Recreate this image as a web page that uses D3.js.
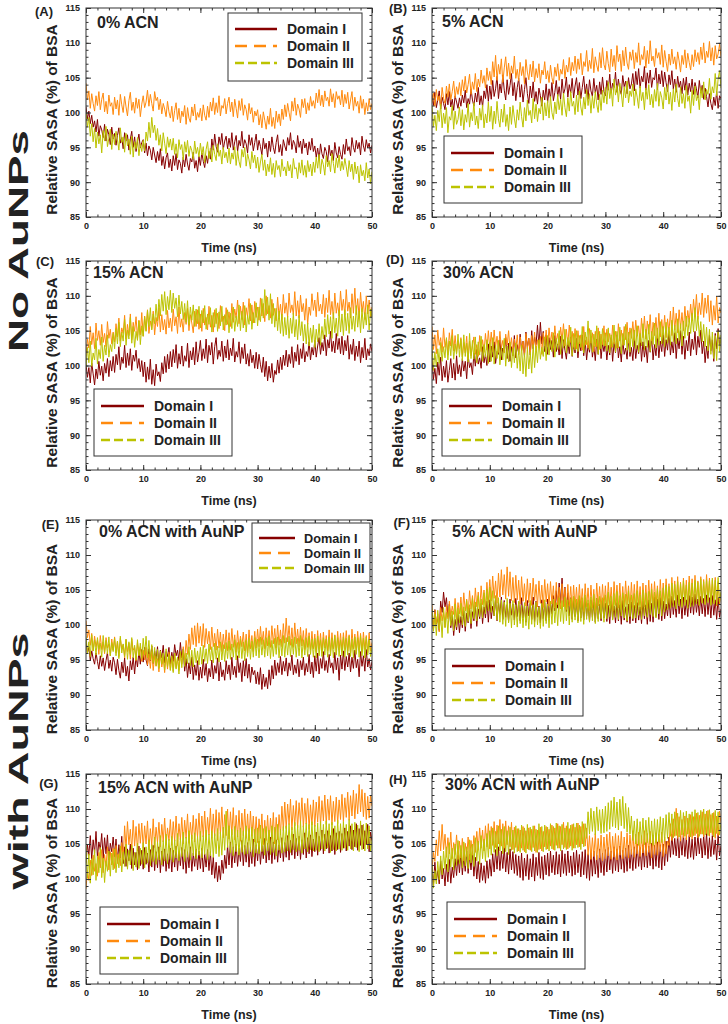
<!DOCTYPE html>
<html>
<head>
<meta charset="utf-8">
<script src="https://cdn.jsdelivr.net/npm/d3@7"></script>
<style>
  body { margin: 0; background: white; }
  text { font-family: "Liberation Sans", Arial, sans-serif; font-weight: bold; }
</style>
</head>
<body>
<script>
// one value every 0.25 ns, 0..50 ns
const timeStep = 0.25;
const domainNames = ['Domain I', 'Domain II', 'Domain III'];
const panelLetters = ['(A)', '(B)', '(C)', '(D)', '(E)', '(F)', '(G)', '(H)'];
const panelTitles = ['0% ACN', '5% ACN', '15% ACN', '30% ACN',
  '0% ACN with AuNP', '5% ACN with AuNP', '15% ACN with AuNP', '30% ACN with AuNP'];
const groupLabels = ['No AuNPs', 'with AuNPs'];
const xTicks = [0, 10, 20, 30, 40, 50];
const yTicks = [85, 90, 95, 100, 105, 110, 115];

// (A) 0% ACN
const sasaA1 = [
  100.8, 99.1, 100.2, 98.4, 99.6, 97.9, 98.8, 97.2, 99.0, 96.6, 98.1, 97.5, 96.4, 98.3, 95.9, 97.6, 96.8, 95.4, 97.9, 96.2,
  97.0, 95.3, 96.7, 97.8, 95.6, 96.4, 94.8, 97.1, 95.9, 96.8, 94.6, 96.2, 97.3, 95.0, 96.5, 94.4, 95.8, 96.9, 94.9, 95.7,
  96.1, 94.2, 95.6, 93.8, 95.2, 94.6, 93.2, 95.0, 93.9, 92.8, 94.4, 93.1, 94.8, 92.4, 93.7, 91.9, 93.5, 94.2, 92.1, 93.3,
  91.6, 93.8, 92.4, 94.1, 91.8, 93.2, 92.7, 91.3, 93.6, 92.2, 94.0, 92.6, 91.7, 93.4, 92.9, 94.3, 92.0, 93.1, 91.5, 93.7,
  92.4, 94.2, 93.0, 92.1, 93.8, 92.7, 94.4, 93.3, 96.2, 94.6, 96.9, 95.1, 94.3, 96.5, 95.4, 97.0, 94.7, 95.9, 96.6, 94.8,
  96.3, 95.0, 97.1, 94.6, 95.8, 96.7, 94.4, 96.0, 95.2, 97.3, 94.9, 96.1, 95.5, 94.2, 96.8, 95.3, 96.4, 94.5, 95.7, 96.9,
  94.6, 96.0, 95.1, 93.9, 96.3, 94.8, 95.6, 93.6, 95.9, 94.4, 96.5, 95.0, 94.1, 95.7, 96.8, 94.3, 95.4, 93.8, 96.1, 95.2,
  94.5, 96.4, 95.3, 97.1, 94.7, 96.0, 95.5, 94.2, 96.7, 95.0, 95.9, 94.1, 96.2, 94.9, 95.6, 93.9, 95.8, 94.6, 96.3, 94.4,
  95.2, 93.6, 94.9, 93.2, 95.5, 94.1, 93.4, 95.0, 94.4, 92.9, 95.3, 93.8, 94.6, 93.1, 95.7, 94.2, 93.5, 95.1, 94.0, 93.3,
  95.4, 94.0, 96.2, 94.5, 95.1, 93.8, 96.4, 95.0, 94.3, 96.0, 94.8, 95.7, 93.9, 96.6, 95.2, 94.4, 96.1, 94.9, 95.6, 94.2,
  95.3];
const sasaA2 = [
  104.2, 101.8, 103.1, 100.6, 102.7, 101.3, 100.2, 102.4, 101.0, 103.0, 100.4, 101.9, 102.8, 100.1, 101.6, 99.8, 102.5, 100.9, 101.4, 99.7,
  102.2, 100.5, 101.8, 99.6, 102.6, 101.1, 100.0, 102.3, 100.8, 99.5, 101.7, 102.9, 100.3, 101.5, 99.9, 102.1, 100.6, 101.9, 99.4, 101.2,
  102.4, 100.7, 101.5, 103.2, 100.9, 102.6, 101.3, 100.2, 103.0, 101.7, 102.2, 100.4, 101.9, 99.8, 101.3, 100.5, 99.4, 101.6, 100.1, 99.2,
  100.9, 98.7, 100.3, 101.4, 99.0, 100.6, 98.5, 100.2, 99.4, 101.0, 98.3, 100.7, 99.2, 98.6, 100.8, 99.5, 101.2, 98.9, 100.0, 99.3,
  100.6, 98.8, 101.1, 99.6, 98.9, 100.9, 99.3, 101.5, 100.2, 102.1, 99.7, 101.4, 100.0, 102.4, 99.5, 101.0, 100.6, 102.0, 99.8, 101.3,
  102.2, 100.1, 101.5, 99.4, 101.9, 100.6, 99.2, 101.7, 100.3, 102.0, 99.6, 101.1, 100.4, 98.9, 101.3, 99.8, 100.7, 98.6, 100.2, 99.5,
  100.4, 98.2, 99.7, 97.8, 100.1, 98.9, 97.6, 99.5, 98.3, 100.6, 98.0, 99.3, 97.7, 100.2, 98.6, 99.8, 98.1, 100.5, 99.0, 101.1,
  99.4, 101.3, 100.0, 98.8, 101.6, 100.2, 102.1, 99.6, 101.2, 100.5, 99.3, 101.9, 100.7, 102.0, 99.8, 101.4, 100.3, 102.3, 100.9, 101.7,
  100.6, 102.8, 101.4, 103.3, 101.0, 102.5, 100.8, 103.1, 101.7, 102.2, 100.9, 103.4, 101.5, 102.7, 100.7, 103.0, 101.9, 102.4, 101.1, 103.2,
  100.8, 102.6, 101.3, 102.9, 100.5, 101.8, 103.0, 100.3, 102.2, 100.9, 101.6, 99.9, 102.4, 100.6, 101.9, 99.7, 101.4, 100.2, 102.0, 100.4,
  101.3];
const sasaA3 = [
  100.1, 97.9, 99.3, 96.6, 98.4, 95.8, 97.7, 94.9, 97.2, 95.5, 96.8, 94.2, 97.4, 95.9, 98.0, 95.1, 96.3, 97.6, 94.7, 96.9,
  95.4, 97.3, 96.1, 94.6, 97.8, 95.7, 96.5, 94.3, 97.0, 95.2, 96.2, 94.0, 96.6, 93.6, 95.8, 94.8, 96.4, 93.8, 95.5, 94.4,
  96.0, 94.5, 97.2, 95.9, 98.6, 96.4, 99.3, 97.1, 98.2, 96.0, 97.7, 95.3, 96.8, 94.5, 97.1, 95.6, 94.1, 96.5, 95.0, 96.2,
  94.6, 96.3, 94.0, 95.5, 93.5, 96.1, 94.7, 95.4, 93.2, 95.8, 94.3, 96.0, 93.7, 95.2, 94.5, 93.3, 95.9, 94.1, 95.0, 93.6,
  95.6, 93.9, 95.1, 92.8, 94.7, 95.8, 93.4, 94.9, 92.9, 95.3, 94.0, 93.1, 95.5, 93.7, 94.6, 92.6, 95.0, 93.5, 94.3, 92.8,
  94.9, 92.6, 94.2, 93.3, 95.1, 92.4, 94.5, 93.0, 92.1, 94.7, 93.6, 95.0, 92.3, 94.1, 93.2, 91.9, 94.4, 92.8, 93.9, 92.0,
  93.6, 91.4, 92.9, 94.0, 91.7, 93.2, 90.9, 92.6, 91.5, 93.5, 91.1, 92.7, 90.7, 93.1, 91.8, 92.4, 90.8, 93.3, 91.6, 92.2,
  90.9, 93.0, 91.6, 92.5, 90.6, 93.4, 91.9, 92.1, 90.5, 92.8, 91.3, 93.2, 91.0, 92.4, 90.7, 93.1, 91.5, 92.6, 90.9, 92.9,
  91.4, 93.6, 92.0, 94.0, 91.2, 93.3, 92.5, 91.0, 93.8, 92.2, 93.1, 91.5, 94.1, 92.7, 91.3, 93.5, 92.1, 93.9, 91.6, 93.0,
  91.8, 93.4, 92.2, 90.8, 93.1, 91.5, 92.6, 90.4, 92.9, 91.2, 92.3, 89.9, 92.5, 90.9, 91.7, 90.2, 92.8, 90.6, 91.9, 89.8,
  91.5];

// (B) 5% ACN
const sasaB1 = [
  102.6, 101.0, 102.9, 100.7, 101.8, 103.1, 100.5, 102.2, 101.3, 100.4, 102.7, 101.1, 103.0, 100.8, 101.9, 100.3, 102.4, 101.5, 100.6, 102.1,
  100.9, 102.5, 101.4, 103.2, 100.7, 102.0, 101.2, 103.4, 101.8, 100.9, 102.8, 101.5, 103.6, 101.1, 102.4, 100.8, 103.1, 102.0, 104.0, 101.6,
  103.8, 101.9, 104.6, 102.3, 103.4, 105.2, 102.0, 104.1, 102.8, 105.4, 103.2, 101.8, 104.7, 102.6, 103.9, 105.6, 102.4, 104.3, 101.7, 103.6,
  104.9, 102.2, 104.0, 101.5, 103.3, 105.0, 102.7, 101.3, 103.8, 102.1, 104.4, 101.6, 103.0, 101.2, 103.5, 102.4, 100.9, 103.2, 101.8, 104.1,
  101.4, 103.4, 102.0, 104.3, 101.7, 102.9, 104.6, 102.3, 103.7, 101.9, 104.8, 102.6, 103.4, 105.1, 102.2, 104.0, 102.8, 104.9, 102.1, 103.8,
  105.0, 102.5, 104.3, 102.0, 103.6, 105.2, 102.7, 104.1, 101.9, 104.7, 103.1, 102.3, 104.9, 102.8, 103.9, 101.8, 104.4, 102.6, 105.1, 103.0,
  102.4, 104.6, 103.2, 105.5, 102.8, 104.2, 103.6, 105.8, 102.9, 104.8, 103.3, 102.6, 105.3, 103.7, 104.5, 102.7, 105.0, 103.4, 104.1, 105.6,
  103.1, 105.9, 104.0, 106.3, 103.5, 105.2, 104.4, 106.6, 103.2, 105.7, 104.2, 106.1, 103.6, 105.0, 104.7, 106.4, 103.3, 105.5, 104.1, 106.0,
  103.7, 105.8, 104.3, 103.0, 105.4, 104.0, 106.0, 103.4, 104.8, 102.9, 105.2, 103.6, 104.5, 102.7, 104.9, 103.2, 105.1, 102.5, 104.2, 103.0,
  104.8, 102.6, 104.3, 103.4, 102.1, 104.6, 102.8, 103.9, 101.9, 103.5, 102.3, 100.8, 102.7, 101.3, 100.4, 102.2, 101.0, 103.0, 100.6, 102.4,
  102.0];
const sasaB2 = [
  101.4, 102.8, 100.9, 103.3, 101.7, 102.4, 100.6, 103.6, 102.0, 101.3, 103.8, 102.2, 104.1, 101.8, 103.0, 104.5, 102.1, 103.7, 102.6, 104.3,
  102.4, 104.7, 103.1, 105.2, 102.8, 104.0, 105.5, 102.6, 104.4, 103.3, 105.6, 103.0, 104.8, 103.7, 106.1, 104.2, 105.3, 103.5, 106.4, 104.6,
  105.9, 104.0, 107.3, 105.1, 108.2, 104.6, 106.9, 105.5, 107.7, 104.3, 106.4, 108.0, 105.2, 107.1, 104.8, 106.7, 105.6, 108.1, 104.9, 106.2,
  104.5, 107.2, 105.3, 106.6, 104.1, 107.6, 105.8, 104.7, 106.9, 105.1, 107.4, 104.4, 106.3, 105.0, 107.0, 104.2, 106.1, 105.4, 107.3, 104.8,
  106.0, 104.3, 106.8, 105.0, 104.1, 106.5, 105.2, 107.0, 104.6, 106.2, 105.5, 107.6, 104.9, 106.8, 105.8, 107.9, 105.3, 107.2, 106.0, 108.1,
  105.6, 107.7, 106.2, 108.5, 105.4, 107.3, 106.6, 108.9, 105.9, 107.5, 106.3, 109.2, 105.7, 108.0, 106.8, 105.9, 108.6, 106.4, 109.3, 106.9,
  106.1, 108.8, 107.0, 105.8, 109.1, 106.6, 108.2, 106.0, 109.6, 107.3, 108.4, 105.9, 108.9, 106.7, 109.4, 107.1, 106.2, 108.7, 107.5, 109.0,
  106.3, 108.6, 107.2, 110.0, 106.8, 108.3, 107.6, 109.5, 106.4, 108.9, 107.0, 110.3, 107.4, 108.1, 106.6, 109.2, 107.8, 108.6, 106.9, 109.7,
  106.5, 108.9, 107.3, 105.9, 108.4, 106.8, 109.1, 107.0, 108.0, 106.2, 108.7, 107.4, 105.8, 108.2, 106.9, 109.0, 106.4, 108.5, 107.2, 106.1,
  108.3, 106.6, 109.0, 107.3, 108.6, 106.9, 109.4, 107.6, 110.0, 107.1, 108.8, 107.9, 110.2, 107.4, 109.3, 106.8, 109.6, 107.7, 108.4, 109.8,
  108.0];
const sasaB3 = [
  100.9, 98.0, 99.6, 97.4, 100.3, 98.7, 101.2, 97.8, 99.9, 98.4, 100.7, 97.1, 99.4, 98.9, 101.0, 97.6, 100.2, 98.3, 99.0, 100.8,
  98.1, 100.4, 97.5, 99.7, 98.6, 101.3, 97.9, 100.0, 98.8, 101.4, 98.2, 99.5, 97.7, 100.6, 98.9, 101.1, 97.8, 99.8, 98.5, 101.5,
  98.7, 100.9, 97.6, 100.2, 98.4, 101.6, 99.1, 97.9, 100.5, 98.6, 101.2, 98.0, 99.7, 97.4, 100.8, 98.3, 101.0, 99.2, 97.8, 100.4,
  98.9, 101.5, 99.4, 97.9, 100.7, 98.8, 101.8, 99.6, 100.3, 98.5, 102.0, 99.1, 101.2, 98.7, 100.6, 99.8, 102.2, 98.9, 101.4, 99.5,
  101.7, 99.2, 102.3, 100.0, 99.0, 101.5, 99.8, 102.6, 100.4, 101.9, 99.6, 102.8, 100.7, 99.4, 102.1, 100.2, 103.0, 100.9, 101.6, 99.7,
  102.5, 100.1, 103.1, 100.8, 99.6, 102.2, 100.5, 103.3, 101.0, 102.7, 99.9, 102.4, 100.6, 103.0, 101.2, 100.0, 102.6, 100.3, 103.2, 101.4,
  103.6, 101.2, 104.4, 102.0, 103.5, 100.9, 104.8, 102.5, 103.9, 101.5, 104.2, 102.8, 100.8, 103.7, 102.1, 104.5, 101.4, 103.1, 102.3, 104.1,
  101.0, 103.4, 102.2, 100.6, 103.8, 101.7, 102.9, 100.4, 103.5, 101.9, 104.0, 101.1, 102.6, 100.7, 103.3, 101.6, 104.2, 100.9, 103.0, 102.1,
  100.5, 103.6, 101.8, 104.0, 101.2, 102.9, 100.3, 103.4, 101.5, 104.1, 102.0, 100.8, 103.7, 101.3, 102.7, 100.6, 103.9, 101.6, 102.4, 99.9,
  103.2, 101.0, 103.8, 101.7, 102.5, 100.4, 103.6, 102.1, 104.4, 101.8, 103.3, 102.6, 104.9, 101.9, 103.7, 102.8, 105.6, 102.4, 104.8, 106.0,
  103.5];

// (C) 15% ACN
const sasaC1 = [
  100.2, 98.3, 99.7, 97.5, 100.4, 98.8, 97.2, 99.5, 98.1, 100.6, 98.6, 99.9, 97.8, 100.3, 98.9, 101.0, 98.4, 100.7, 99.2, 101.3,
  99.0, 101.6, 100.1, 102.7, 99.4, 101.2, 100.3, 102.9, 99.7, 101.8, 100.0, 102.4, 99.3, 101.5, 100.6, 102.2, 99.6, 101.0, 99.1, 100.7,
  98.4, 100.5, 97.6, 99.8, 98.0, 100.9, 97.3, 99.4, 97.1, 100.2, 98.5, 99.1, 97.7, 100.4, 98.8, 101.3, 99.0, 101.6, 99.5, 102.0,
  99.8, 102.3, 100.4, 103.0, 99.6, 101.7, 100.2, 102.8, 99.9, 101.4, 100.6, 103.2, 99.7, 102.1, 100.8, 102.6, 100.1, 103.4, 100.5, 101.9,
  103.6, 100.7, 102.4, 101.0, 103.8, 100.4, 102.9, 101.5, 103.3, 100.2, 102.7, 104.0, 100.9, 102.2, 101.3, 103.5, 100.6, 102.8, 101.1, 103.7,
  100.8, 102.5, 101.4, 103.9, 100.5, 102.0, 101.2, 103.4, 100.3, 102.6, 101.0, 103.1, 100.2, 101.7, 99.9, 102.3, 100.4, 101.5, 99.6, 101.9,
  99.5, 101.6, 100.1, 99.0, 101.2, 98.4, 100.6, 97.8, 99.9, 98.2, 100.3, 97.6, 99.3, 98.7, 100.8, 98.9, 101.2, 99.4, 101.5, 100.0,
  102.2, 99.8, 101.6, 100.3, 102.7, 99.7, 101.9, 100.6, 103.0, 100.1, 102.4, 101.0, 103.2, 100.5, 102.0, 101.3, 103.4, 100.8, 102.6, 101.5,
  103.6, 101.2, 102.8, 104.0, 101.6, 103.3, 102.1, 104.4, 101.4, 103.7, 102.5, 104.9, 102.0, 103.5, 101.8, 104.6, 102.3, 103.9, 101.7, 104.2,
  101.5, 103.6, 102.1, 104.3, 100.9, 103.0, 101.6, 103.8, 100.7, 102.8, 101.3, 103.5, 100.4, 102.6, 101.1, 103.9, 100.8, 102.4, 101.4, 103.1,
  102.0];
const sasaC2 = [
  101.3, 103.8, 102.5, 105.6, 103.0, 104.7, 102.4, 106.1, 103.6, 105.0, 102.9, 105.9, 103.3, 104.6, 102.7, 106.3, 103.9, 105.2, 103.1, 104.8,
  103.4, 106.0, 104.1, 106.8, 103.5, 105.4, 104.6, 107.2, 103.8, 105.9, 104.3, 107.4, 103.7, 106.2, 104.9, 107.0, 103.9, 106.5, 104.4, 107.6,
  104.2, 107.1, 105.0, 108.0, 104.6, 106.4, 105.3, 107.8, 104.4, 106.9, 105.6, 108.3, 104.8, 107.3, 105.1, 106.6, 104.5, 107.9, 105.4, 106.8,
  104.9, 108.1, 105.7, 107.0, 104.6, 108.4, 105.5, 106.7, 104.8, 107.6, 105.9, 108.2, 105.0, 107.3, 106.1, 104.7, 107.8, 105.6, 108.0, 105.2,
  107.4, 104.9, 108.2, 105.8, 106.9, 105.1, 108.5, 105.5, 107.2, 104.8, 108.0, 106.0, 107.5, 105.3, 108.6, 106.3, 107.1, 105.0, 108.3, 105.9,
  107.7, 105.6, 108.9, 106.2, 108.1, 106.8, 109.4, 106.0, 108.5, 106.6, 109.1, 105.8, 108.3, 107.0, 109.6, 106.4, 108.7, 106.1, 109.2, 106.9,
  108.4, 106.5, 109.7, 107.1, 108.9, 106.3, 110.0, 107.4, 108.6, 106.8, 109.5, 107.2, 108.2, 106.4, 109.8, 107.0, 108.8, 106.6, 110.2, 107.5,
  109.0, 106.9, 110.4, 107.6, 108.7, 107.3, 110.6, 107.1, 109.3, 106.8, 110.1, 107.7, 108.9, 106.5, 109.6, 105.9, 108.4, 107.2, 110.3, 107.9,
  109.4, 107.0, 110.5, 107.8, 108.8, 107.4, 110.2, 106.9, 109.7, 107.6, 110.8, 107.3, 109.2, 106.7, 110.4, 107.5, 109.0, 107.1, 110.7, 107.9,
  109.5, 107.2, 110.9, 107.8, 109.1, 106.8, 110.3, 107.5, 111.1, 107.3, 109.6, 106.9, 110.5, 107.7, 109.2, 106.6, 110.0, 107.4, 109.4, 107.0,
  108.4];
const sasaC3 = [
  99.7, 102.6, 100.4, 103.5, 99.9, 101.8, 100.8, 103.9, 100.2, 102.3, 101.0, 104.1, 100.6, 102.9, 101.5, 104.4, 101.2, 103.0, 102.0, 104.6,
  102.4, 105.3, 103.1, 106.2, 102.7, 104.8, 103.5, 106.6, 102.9, 105.1, 103.8, 106.9, 103.2, 105.6, 102.6, 104.9, 103.6, 106.4, 103.0, 105.7,
  104.2, 107.0, 104.9, 107.9, 105.6, 108.3, 105.1, 107.4, 106.0, 108.8, 106.4, 109.5, 107.1, 110.2, 107.8, 110.6, 107.3, 109.9, 108.0, 110.8,
  107.6, 110.4, 108.2, 109.7, 107.0, 110.1, 107.4, 109.2, 106.6, 108.9, 106.2, 109.3, 105.8, 108.4, 106.5, 108.7, 105.6, 108.1, 106.0, 108.5,
  105.4, 107.9, 106.1, 108.6, 105.2, 107.4, 105.9, 108.3, 104.8, 107.6, 105.5, 108.2, 104.9, 107.7, 105.7, 108.5, 105.1, 107.3, 105.8, 108.0,
  104.7, 107.5, 105.3, 108.4, 104.9, 107.1, 105.6, 108.7, 105.0, 107.8, 105.4, 108.6, 104.8, 107.2, 105.9, 108.9, 105.2, 107.6, 106.1, 109.0,
  105.7, 108.4, 106.3, 109.6, 106.8, 110.9, 107.2, 109.8, 106.5, 110.3, 106.0, 108.9, 105.5, 108.2, 105.0, 107.8, 104.6, 107.4, 104.2, 106.9,
  104.4, 107.1, 103.9, 106.8, 104.6, 107.5, 104.1, 106.6, 103.7, 107.2, 104.3, 106.3, 103.5, 105.9, 103.1, 106.1, 102.8, 105.4, 103.3, 105.8,
  102.6, 105.2, 103.4, 106.0, 102.9, 105.6, 103.8, 106.7, 104.1, 107.3, 104.5, 107.0, 103.9, 107.6, 104.7, 106.8, 104.2, 107.9, 104.8, 107.4,
  104.3, 108.0, 105.0, 107.5, 104.6, 108.3, 105.2, 107.1, 104.9, 108.6, 105.5, 107.8, 104.7, 108.2, 105.3, 107.6, 105.8, 108.7, 105.1, 108.1,
  106.8];

// (D) 30% ACN
const sasaD1 = [
  100.8, 98.0, 99.6, 97.4, 100.5, 98.6, 101.2, 97.8, 99.9, 98.3, 100.7, 97.6, 99.3, 101.0, 98.2, 100.3, 97.9, 101.4, 98.8, 100.1,
  98.4, 101.0, 99.2, 100.6, 98.1, 101.5, 99.7, 100.4, 98.7, 101.8, 99.9, 102.3, 100.2, 101.1, 99.6, 102.7, 100.4, 101.6, 100.0, 103.1,
  100.5, 102.8, 101.2, 103.4, 100.3, 102.0, 101.6, 103.7, 100.8, 102.5, 101.9, 104.0, 101.0, 103.2, 100.6, 102.7, 101.4, 104.3, 101.1, 103.0,
  101.7, 104.5, 102.2, 103.5, 101.3, 104.8, 102.6, 103.9, 101.5, 105.0, 102.4, 104.1, 103.0, 105.8, 102.7, 106.2, 103.1, 104.9, 102.0, 104.4,
  101.6, 104.0, 102.3, 103.6, 101.2, 104.3, 102.0, 103.1, 101.5, 104.2, 101.0, 103.7, 102.2, 100.9, 103.4, 101.7, 104.1, 101.3, 103.0, 101.8,
  103.9, 101.1, 103.3, 102.1, 104.4, 101.4, 103.6, 100.8, 103.0, 101.9, 104.2, 101.2, 102.8, 100.7, 103.8, 101.6, 104.5, 101.0, 103.2, 102.0,
  103.5, 100.8, 102.9, 101.5, 104.0, 100.6, 103.3, 101.8, 104.4, 101.1, 102.7, 100.5, 103.7, 101.6, 102.5, 100.9, 103.9, 101.3, 102.6, 100.7,
  103.8, 101.0, 102.9, 101.7, 104.2, 100.6, 103.4, 101.2, 102.8, 100.4, 103.6, 101.9, 104.1, 100.8, 103.0, 101.4, 104.3, 101.1, 103.5, 102.0,
  104.6, 101.3, 103.7, 102.2, 104.9, 101.5, 103.4, 101.8, 104.7, 101.0, 103.9, 102.4, 105.0, 101.6, 104.2, 100.9, 103.6, 102.1, 104.8, 101.4,
  103.8, 102.3, 104.9, 101.5, 104.2, 102.6, 105.1, 101.7, 103.5, 100.4, 102.8, 101.0, 104.4, 102.1, 103.7, 100.6, 104.6, 102.4, 105.3, 103.0,
  103.6];
const sasaD2 = [
  105.6, 102.3, 104.4, 101.7, 105.1, 102.9, 104.0, 101.9, 105.4, 102.6, 103.8, 101.5, 104.7, 102.8, 105.2, 102.1, 104.3, 101.8, 103.6, 102.4,
  104.0, 101.2, 103.3, 101.8, 104.2, 100.9, 103.5, 101.4, 102.8, 104.1, 101.6, 103.0, 101.3, 104.3, 102.0, 103.7, 101.9, 104.6, 102.2, 105.0,
  102.4, 104.8, 102.0, 105.1, 102.7, 104.2, 101.9, 104.9, 102.5, 103.6, 101.8, 104.5, 102.9, 105.0, 102.2, 104.0, 101.6, 103.8, 102.3, 104.4,
  101.5, 104.1, 102.1, 103.5, 101.4, 104.6, 102.4, 103.9, 101.7, 104.3, 102.6, 104.8, 101.9, 103.7, 102.5, 104.2, 101.6, 104.7, 102.8, 105.1,
  102.7, 105.4, 103.2, 104.8, 102.5, 105.7, 103.4, 104.6, 102.9, 105.5, 103.6, 106.0, 102.8, 105.2, 103.0, 105.8, 103.3, 104.9, 102.6, 105.3,
  102.4, 105.0, 103.1, 104.4, 102.2, 105.6, 102.9, 104.1, 102.5, 105.3, 103.2, 104.7, 102.0, 104.9, 102.7, 105.4, 102.3, 104.5, 103.0, 105.7,
  102.8, 105.2, 103.4, 104.6, 102.6, 105.8, 103.1, 104.9, 102.5, 106.0, 103.5, 105.1, 102.9, 105.6, 103.7, 106.2, 103.2, 105.4, 103.9, 106.3,
  103.6, 106.5, 104.2, 105.7, 103.3, 106.8, 104.0, 107.1, 103.8, 106.4, 104.5, 107.3, 103.5, 106.2, 104.3, 106.9, 103.9, 107.5, 104.1, 106.6,
  104.4, 107.2, 104.0, 106.7, 104.8, 107.8, 104.3, 108.4, 105.1, 107.5, 104.7, 108.0, 105.3, 107.6, 105.0, 108.5, 105.6, 107.9, 106.2, 108.8,
  106.4, 109.5, 107.0, 110.2, 106.6, 109.0, 107.3, 110.4, 106.9, 109.7, 107.5, 110.1, 106.3, 109.3, 105.8, 108.6, 106.5, 109.9, 106.1, 108.3,
  107.5];
const sasaD3 = [
  102.8, 99.3, 101.9, 99.8, 102.4, 100.3, 103.3, 100.6, 102.7, 101.1, 104.0, 100.8, 103.5, 101.4, 104.3, 100.9, 103.1, 101.6, 104.5, 101.2,
  103.8, 100.7, 104.4, 101.3, 103.2, 100.5, 104.6, 101.0, 103.6, 100.9, 104.1, 100.4, 103.4, 101.5, 104.2, 100.6, 103.0, 101.2, 103.7, 100.3,
  103.3, 100.6, 104.0, 100.2, 102.9, 101.0, 103.6, 100.1, 102.6, 100.8, 103.9, 99.9, 102.8, 100.5, 103.4, 99.7, 102.5, 100.4, 103.2, 99.6,
  102.4, 99.2, 102.9, 98.8, 101.8, 98.4, 102.6, 99.5, 101.9, 98.9, 103.0, 99.7, 102.8, 100.4, 103.7, 100.9, 102.6, 101.3, 104.1, 100.7,
  104.3, 101.5, 103.6, 102.0, 104.7, 101.2, 103.9, 102.3, 105.0, 101.6, 104.4, 102.5, 105.2, 101.8, 104.0, 102.7, 105.5, 101.4, 104.6, 102.2,
  105.0, 102.0, 104.3, 102.6, 105.6, 101.8, 104.8, 103.0, 106.4, 102.3, 105.1, 101.9, 104.5, 102.7, 105.7, 101.6, 104.9, 102.4, 105.3, 102.8,
  104.7, 102.1, 105.4, 101.8, 104.4, 102.6, 105.8, 101.9, 104.9, 102.5, 105.5, 101.7, 104.6, 102.9, 105.9, 102.2, 104.8, 101.9, 105.3, 102.7,
  105.1, 102.4, 105.7, 101.9, 104.6, 102.8, 106.0, 102.2, 105.2, 102.6, 105.9, 102.0, 104.9, 103.0, 106.1, 102.5, 105.4, 102.9, 106.3, 103.1,
  105.6, 102.7, 106.2, 103.2, 105.5, 102.9, 106.5, 103.4, 105.8, 103.1, 106.7, 103.6, 106.0, 102.8, 106.4, 103.9, 107.1, 104.3, 106.8, 104.6,
  107.5, 104.8, 108.3, 105.0, 107.1, 104.2, 106.3, 103.4, 105.9, 102.7, 105.5, 102.1, 105.2, 101.6, 104.8, 101.0, 104.3, 100.7, 104.9, 102.0,
  104.4];

// (E) 0% ACN with AuNP
const sasaE1 = [
  97.8, 96.0, 96.8, 94.9, 96.3, 95.2, 94.4, 96.0, 94.8, 93.7, 95.6, 94.1, 95.3, 93.5, 94.9, 96.1, 93.8, 95.0, 93.4, 95.4,
  94.6, 92.9, 95.1, 93.5, 92.4, 94.7, 93.2, 95.3, 92.7, 94.1, 92.0, 94.9, 93.6, 95.4, 93.0, 95.6, 94.0, 96.2, 94.4, 96.5,
  94.7, 96.8, 95.0, 94.2, 96.6, 94.9, 97.0, 94.5, 96.3, 95.1, 96.9, 94.3, 96.4, 95.3, 97.1, 94.6, 96.2, 95.5, 96.8, 94.4,
  96.1, 94.8, 97.2, 95.6, 96.4, 94.9, 97.5, 95.3, 96.6, 93.4, 95.2, 92.5, 94.6, 93.0, 95.4, 92.2, 94.3, 92.8, 94.9, 92.1,
  94.0, 92.4, 95.1, 92.8, 94.5, 91.9, 93.8, 92.6, 95.0, 92.3, 94.2, 93.1, 95.3, 92.0, 94.7, 92.6, 93.6, 92.1, 94.9, 93.0,
  94.3, 92.2, 95.4, 92.9, 94.1, 92.5, 95.6, 93.2, 94.6, 91.9, 94.9, 92.7, 95.2, 92.4, 94.4, 91.8, 94.0, 92.9, 93.5, 91.6,
  93.3, 91.5, 93.9, 90.8, 93.0, 91.2, 92.5, 90.9, 93.6, 91.4, 94.2, 92.3, 95.0, 92.8, 94.6, 93.2, 95.5, 92.9, 94.8, 93.4,
  95.3, 92.7, 94.6, 93.5, 95.7, 92.9, 94.3, 93.1, 95.1, 92.6, 94.9, 93.6, 95.4, 92.8, 94.5, 93.3, 95.8, 93.0, 94.7, 92.5,
  95.6, 93.4, 96.0, 93.0, 95.2, 93.8, 96.2, 93.5, 94.9, 93.2, 95.8, 93.9, 94.6, 93.1, 96.1, 93.6, 95.3, 92.1, 95.7, 93.7,
  96.3, 93.5, 95.5, 94.0, 96.0, 93.3, 95.4, 93.8, 96.4, 93.9, 95.1, 92.6, 96.2, 94.1, 95.6, 93.4, 96.5, 94.0, 95.2, 93.6,
  94.8];
const sasaE2 = [
  100.6, 98.2, 99.3, 97.1, 98.8, 96.3, 98.4, 96.9, 97.8, 95.8, 98.5, 96.5, 97.6, 95.9, 98.2, 96.7, 97.3, 95.6, 98.0, 96.4,
  98.3, 96.0, 97.7, 95.5, 98.1, 96.6, 97.2, 95.3, 97.9, 96.2, 97.4, 95.1, 98.0, 96.4, 96.8, 94.9, 97.5, 95.7, 96.9, 94.8,
  96.4, 95.0, 96.8, 94.3, 95.9, 93.8, 96.2, 93.5, 95.6, 94.1, 95.2, 93.3, 96.0, 94.0, 95.4, 93.2, 95.8, 93.7, 96.1, 93.6,
  95.5, 93.4, 95.9, 93.9, 95.3, 93.5, 96.2, 94.4, 96.9, 95.0, 97.8, 95.8, 98.7, 96.5, 99.6, 97.2, 99.9, 96.9, 100.3, 97.4,
  99.8, 97.0, 100.2, 96.8, 99.5, 97.3, 99.1, 96.5, 99.7, 96.9, 98.8, 96.4, 99.4, 96.7, 99.0, 96.2, 98.7, 96.6, 99.3, 96.3,
  98.9, 96.4, 99.5, 96.8, 98.6, 96.1, 99.2, 96.5, 98.4, 96.9, 99.0, 96.3, 98.7, 96.0, 99.3, 96.6, 98.5, 96.2, 99.1, 96.7,
  99.4, 96.9, 99.8, 97.2, 99.1, 96.6, 99.6, 97.0, 99.2, 96.8, 99.9, 97.3, 99.5, 96.7, 100.0, 97.1, 99.3, 96.9, 100.2, 97.4,
  101.0, 97.6, 99.9, 97.1, 99.6, 96.8, 100.3, 97.3, 99.4, 96.9, 99.7, 97.0, 99.2, 96.5, 99.5, 96.8, 98.9, 96.4, 99.1, 96.6,
  98.7, 96.1, 99.2, 96.5, 98.8, 96.0, 99.0, 96.7, 98.5, 96.3, 99.3, 96.2, 98.9, 96.6, 98.6, 96.1, 99.1, 96.4, 98.8, 96.2,
  98.9, 96.5, 99.2, 96.3, 98.6, 96.0, 99.4, 96.6, 98.7, 96.2, 99.1, 96.4, 98.8, 96.1, 99.0, 96.5, 98.5, 96.0, 98.9, 96.3,
  97.5];
const sasaE3 = [
  98.4, 96.0, 97.6, 95.5, 98.6, 96.3, 97.9, 95.7, 98.2, 96.5, 97.4, 95.4, 98.5, 96.1, 97.8, 95.9, 98.3, 95.6, 97.5, 96.2,
  98.1, 95.6, 97.7, 95.2, 98.4, 96.0, 97.3, 95.5, 98.0, 95.1, 97.6, 95.8, 98.2, 95.3, 97.1, 95.0, 97.9, 95.6, 97.4, 95.2,
  98.1, 95.7, 98.4, 95.3, 97.8, 95.0, 97.2, 94.6, 96.8, 94.2, 96.5, 93.8, 96.3, 94.4, 96.0, 93.6, 96.6, 94.0, 95.8, 93.5,
  95.6, 93.2, 96.0, 93.7, 95.4, 93.0, 96.2, 93.9, 96.5, 94.1, 96.0, 94.5, 96.9, 94.2, 96.4, 94.0, 96.7, 94.6, 96.3, 94.3,
  96.8, 94.4, 97.1, 94.8, 96.6, 94.5, 97.3, 94.9, 96.9, 94.6, 97.4, 95.1, 97.0, 94.7, 97.6, 95.0, 97.2, 94.8, 97.5, 95.2,
  97.7, 95.1, 97.3, 95.4, 97.9, 95.0, 97.5, 95.3, 98.0, 95.2, 97.6, 94.9, 97.8, 95.5, 98.1, 95.1, 97.7, 95.4, 98.2, 95.6,
  98.0, 95.3, 98.3, 95.7, 97.9, 95.4, 98.2, 95.6, 98.4, 95.2, 97.8, 95.5, 98.1, 95.8, 98.3, 95.3, 98.0, 95.6, 98.5, 95.4,
  98.2, 95.7, 98.4, 95.5, 98.0, 95.8, 98.3, 95.4, 98.1, 95.6, 98.5, 95.3, 97.9, 95.7, 98.2, 95.5, 98.4, 95.8, 98.0, 95.4,
  98.1, 95.3, 98.4, 95.6, 97.9, 95.5, 98.2, 95.7, 98.0, 95.4, 98.3, 95.6, 98.1, 95.3, 98.5, 95.7, 98.2, 95.5, 97.9, 95.6,
  98.3, 95.4, 98.1, 95.7, 98.4, 95.5, 98.0, 95.3, 98.3, 95.8, 98.2, 95.4, 98.5, 95.6, 98.1, 95.3, 98.3, 95.7, 98.0, 95.5,
  96.8];

// (F) 5% ACN with AuNP
const sasaF1 = [
  101.6, 99.4, 102.2, 100.1, 100.9, 99.2, 103.4, 101.8, 104.7, 102.6, 103.9, 101.2, 103.0, 99.6, 101.4, 98.5, 100.8, 99.3, 101.5, 98.9,
  101.2, 99.6, 102.0, 99.1, 101.7, 100.3, 102.4, 99.5, 101.9, 100.6, 102.8, 99.8, 102.3, 100.9, 103.1, 100.2, 102.6, 101.0, 103.4, 100.4,
  103.6, 100.9, 102.7, 101.3, 103.9, 100.6, 103.2, 101.5, 104.0, 100.8, 103.5, 101.1, 102.9, 100.5, 103.7, 101.4, 103.0, 100.7, 103.8, 101.2,
  103.3, 100.6, 103.9, 101.0, 102.8, 100.4, 103.5, 101.3, 103.1, 100.8, 104.0, 100.5, 103.4, 101.1, 102.7, 100.3, 103.6, 100.9, 103.2, 100.6,
  103.7, 101.0, 103.3, 101.6, 104.2, 102.0, 104.9, 102.4, 106.0, 103.1, 106.7, 102.8, 105.4, 101.9, 104.6, 101.3, 103.9, 100.8, 103.5, 101.2,
  103.2, 100.6, 103.7, 101.0, 103.4, 100.7, 103.9, 101.3, 103.1, 100.5, 103.6, 101.1, 103.3, 100.4, 103.8, 100.9, 103.0, 100.6, 103.5, 101.0,
  103.1, 100.5, 102.8, 100.2, 103.4, 100.8, 102.7, 100.3, 103.2, 100.6, 102.9, 100.1, 103.5, 100.7, 102.6, 100.4, 103.0, 100.2, 103.3, 100.6,
  102.8, 100.3, 103.2, 100.7, 102.6, 100.2, 103.4, 100.9, 102.9, 100.1, 103.6, 100.5, 103.1, 100.4, 104.0, 101.2, 103.7, 100.8, 103.9, 100.6,
  103.4, 100.9, 103.0, 101.3, 103.8, 101.0, 104.1, 101.5, 103.5, 101.1, 104.3, 101.6, 103.7, 100.9, 104.0, 101.4, 103.6, 101.2, 104.2, 101.7,
  104.0, 101.5, 104.4, 101.8, 103.7, 101.3, 104.1, 101.6, 103.8, 101.2, 104.3, 101.5, 103.9, 101.0, 104.2, 101.4, 103.6, 100.8, 103.9, 101.1,
  102.3];
const sasaF2 = [
  102.9, 99.4, 102.1, 100.2, 101.6, 99.0, 102.5, 100.6, 101.9, 99.7, 102.8, 100.9, 103.4, 101.2, 102.7, 101.5, 103.8, 100.8, 103.2, 101.6,
  104.0, 101.3, 104.6, 102.0, 103.7, 101.5, 104.9, 102.3, 104.2, 101.9, 105.3, 102.6, 104.7, 102.1, 105.6, 102.9, 105.0, 102.4, 106.1, 103.2,
  106.5, 103.4, 107.0, 103.8, 106.3, 103.1, 107.4, 104.0, 107.9, 104.3, 107.2, 103.7, 108.3, 104.1, 107.6, 103.5, 106.8, 103.2, 107.1, 103.6,
  106.4, 103.0, 106.9, 103.4, 105.9, 102.7, 106.6, 103.2, 106.0, 102.8, 106.7, 103.5, 105.8, 102.6, 106.3, 103.1, 105.7, 102.5, 106.5, 103.3,
  105.9, 102.7, 106.2, 103.0, 105.6, 102.4, 106.1, 102.9, 105.4, 102.3, 105.9, 102.6, 105.3, 102.2, 105.8, 102.7, 105.5, 102.1, 105.7, 102.5,
  105.4, 102.1, 105.8, 102.5, 105.2, 101.9, 105.9, 102.6, 105.3, 102.0, 105.7, 102.4, 105.1, 101.8, 106.0, 102.7, 105.5, 102.2, 105.8, 102.6,
  105.6, 102.3, 106.1, 102.7, 105.4, 102.0, 106.2, 102.8, 105.7, 102.4, 106.0, 102.2, 105.5, 102.6, 106.3, 102.9, 105.6, 102.3, 106.1, 102.5,
  105.8, 102.4, 106.3, 102.8, 105.5, 102.2, 106.0, 102.6, 105.7, 102.3, 106.4, 102.9, 105.9, 102.5, 106.2, 102.7, 105.6, 102.4, 106.5, 102.8,
  106.0, 102.9, 106.6, 103.1, 105.9, 102.6, 106.8, 103.2, 106.3, 102.8, 106.9, 103.0, 106.1, 102.7, 106.7, 103.3, 106.4, 102.9, 107.0, 103.1,
  106.6, 103.0, 107.1, 103.4, 106.3, 102.8, 106.9, 103.2, 106.5, 103.0, 107.2, 103.5, 106.7, 102.9, 106.4, 103.1, 106.8, 102.7, 106.2, 103.0,
  104.6];
const sasaF3 = [
  102.3, 99.1, 101.6, 98.5, 102.1, 99.4, 101.3, 98.2, 102.5, 99.6, 101.8, 98.8, 102.7, 99.9, 102.0, 99.2, 103.0, 99.7, 102.4, 100.3,
  103.1, 100.0, 102.6, 99.8, 103.5, 100.5, 102.9, 100.2, 103.8, 100.9, 103.3, 100.6, 104.2, 101.2, 103.7, 101.0, 104.6, 101.6, 105.1, 102.0,
  105.4, 101.8, 104.9, 101.3, 104.2, 100.7, 103.9, 100.4, 103.6, 100.1, 103.3, 99.8, 103.8, 100.3, 103.1, 99.6, 103.5, 100.0, 102.9, 99.7,
  103.4, 100.2, 102.8, 99.6, 103.2, 99.9, 102.7, 99.4, 103.5, 100.1, 102.9, 99.7, 103.3, 100.0, 102.6, 99.5, 103.1, 99.8, 103.6, 100.2,
  103.0, 99.6, 103.4, 100.1, 103.7, 100.3, 103.2, 99.9, 103.9, 100.5, 103.5, 100.2, 104.0, 100.6, 103.6, 100.0, 103.8, 100.4, 104.1, 100.7,
  103.7, 100.3, 104.2, 100.5, 103.9, 100.1, 104.3, 100.8, 103.6, 100.4, 104.0, 100.6, 104.4, 100.2, 103.8, 100.5, 104.1, 100.9, 103.9, 100.4,
  104.3, 100.9, 104.7, 101.2, 104.1, 100.7, 104.5, 101.1, 104.8, 100.8, 104.2, 101.3, 104.6, 101.0, 104.4, 100.6, 104.9, 101.2, 104.3, 100.9,
  104.5, 101.0, 104.9, 101.4, 104.3, 100.8, 105.0, 101.3, 104.6, 101.1, 104.8, 101.5, 105.1, 101.2, 104.7, 101.0, 105.2, 101.6, 104.9, 101.3,
  105.3, 101.9, 105.7, 102.2, 105.5, 102.4, 106.0, 102.6, 105.8, 102.3, 106.2, 102.7, 105.9, 102.5, 106.3, 102.8, 105.7, 102.4, 106.1, 102.6,
  106.0, 102.7, 106.4, 103.0, 106.1, 102.8, 106.6, 103.1, 106.2, 102.9, 106.5, 103.2, 106.3, 102.8, 106.7, 103.0, 106.4, 102.9, 106.8, 103.3,
  104.8];

// (G) 15% ACN with AuNP
const sasaG1 = [
  102.3, 104.9, 103.4, 106.2, 102.8, 105.6, 103.7, 106.8, 103.1, 105.3, 104.2, 106.5, 102.9, 105.9, 103.6, 106.3, 102.7, 105.1, 103.9, 106.0,
  103.2, 105.7, 102.5, 104.9, 103.0, 106.1, 102.2, 104.6, 101.8, 104.3, 102.6, 105.0, 101.5, 104.4, 102.0, 103.8, 101.3, 104.7, 101.9, 104.1,
  101.4, 104.5, 102.1, 103.7, 101.0, 104.2, 101.7, 104.8, 101.2, 103.9, 101.6, 104.6, 100.9, 104.0, 101.8, 104.3, 101.1, 103.6, 101.5, 104.4,
  101.0, 104.1, 101.7, 104.7, 101.2, 103.8, 101.9, 104.5, 101.4, 104.2, 100.8, 103.9, 101.6, 104.6, 101.1, 103.7, 101.8, 104.3, 101.3, 104.0,
  101.5, 104.4, 101.0, 103.6, 101.7, 104.2, 101.2, 103.9, 100.6, 103.1, 100.1, 102.4, 99.6, 101.9, 99.9, 102.7, 100.8, 103.4, 101.5, 104.8,
  102.0, 105.3, 101.6, 104.6, 102.3, 105.0, 101.8, 104.4, 102.5, 105.5, 101.9, 104.8, 102.4, 105.2, 101.7, 104.5, 102.2, 105.7, 101.8, 104.9,
  102.6, 105.4, 102.1, 104.8, 102.9, 105.8, 102.3, 105.1, 102.7, 106.0, 102.2, 105.3, 102.8, 105.6, 102.4, 104.9, 103.0, 105.9, 102.5, 105.2,
  103.1, 106.2, 102.7, 105.5, 103.4, 106.4, 102.9, 105.8, 103.3, 106.1, 102.8, 105.6, 103.5, 106.6, 103.0, 105.9, 103.6, 106.3, 103.2, 105.7,
  103.9, 106.7, 103.4, 106.1, 104.1, 107.0, 103.6, 106.4, 104.3, 106.9, 103.7, 106.2, 104.0, 107.2, 103.5, 106.6, 104.2, 106.8, 103.8, 106.5,
  104.4, 107.3, 104.0, 106.8, 104.7, 107.6, 104.2, 107.0, 104.6, 107.9, 104.1, 107.2, 104.8, 107.7, 104.3, 106.9, 104.9, 107.8, 103.9, 106.7,
  105.4];
const sasaG2 = [
  98.6, 101.2, 99.8, 102.7, 100.5, 103.4, 101.1, 102.2, 100.4, 103.8, 101.6, 104.2, 100.9, 103.5, 101.8, 104.6, 101.3, 103.9, 102.0, 104.4,
  101.5, 104.8, 102.2, 103.6, 101.9, 105.2, 102.8, 107.6, 104.3, 108.2, 104.9, 107.1, 104.1, 108.4, 104.7, 107.5, 104.0, 107.9, 105.1, 108.0,
  104.4, 107.6, 105.0, 108.3, 104.2, 107.2, 104.8, 108.6, 104.5, 107.4, 105.2, 108.1, 104.6, 107.8, 105.3, 108.7, 104.9, 107.3, 105.5, 108.5,
  104.8, 108.2, 105.4, 109.0, 104.7, 107.9, 105.6, 108.8, 105.0, 108.4, 105.8, 109.3, 105.1, 108.1, 105.7, 109.1, 105.3, 108.6, 105.9, 109.4,
  105.4, 109.0, 106.0, 109.7, 105.6, 108.8, 106.3, 110.1, 105.8, 109.3, 106.1, 109.9, 105.5, 109.5, 106.4, 110.3, 105.9, 109.2, 106.2, 110.0,
  105.7, 109.6, 106.3, 110.2, 105.6, 109.1, 106.0, 109.8, 105.4, 109.4, 106.2, 110.0, 105.8, 109.3, 105.5, 109.7, 106.1, 109.0, 105.3, 108.9,
  105.2, 108.6, 105.8, 109.3, 104.9, 108.4, 105.5, 109.1, 105.1, 108.7, 105.7, 109.5, 105.0, 108.8, 105.6, 109.2, 106.3, 110.4, 106.9, 111.0,
  107.2, 110.7, 107.8, 111.4, 107.0, 110.5, 107.6, 111.2, 107.3, 110.9, 108.0, 111.6, 107.4, 110.8, 107.9, 111.5, 107.1, 110.6, 107.7, 111.3,
  107.5, 111.0, 108.1, 111.8, 107.6, 111.2, 108.3, 112.0, 107.8, 111.4, 108.4, 111.9, 107.7, 111.1, 108.2, 111.7, 107.9, 111.3, 108.5, 112.1,
  108.2, 111.6, 108.8, 112.4, 108.4, 111.9, 109.0, 112.7, 108.6, 112.2, 109.3, 113.5, 109.6, 112.8, 108.9, 112.3, 108.5, 111.8, 108.7, 112.0,
  110.4];
const sasaG3 = [
  104.8, 100.1, 103.6, 99.4, 102.9, 100.6, 104.2, 99.8, 103.3, 100.9, 104.5, 100.2, 103.0, 99.5, 102.6, 101.1, 104.0, 100.4, 103.7, 101.3,
  104.3, 100.9, 103.5, 101.6, 104.7, 101.0, 103.9, 101.8, 105.0, 101.4, 104.1, 102.0, 104.8, 101.2, 103.8, 101.7, 105.1, 101.5, 104.4, 102.1,
  105.2, 101.6, 104.6, 102.3, 105.6, 101.9, 104.9, 102.5, 106.0, 102.1, 105.3, 102.7, 106.2, 102.0, 105.5, 102.6, 106.4, 102.2, 105.7, 102.8,
  106.1, 102.4, 105.6, 103.0, 106.5, 102.6, 105.8, 103.2, 106.7, 102.5, 106.0, 103.1, 106.9, 102.7, 106.3, 103.3, 106.6, 102.9, 106.1, 103.4,
  106.8, 103.0, 106.2, 103.5, 107.0, 102.8, 106.4, 103.3, 106.9, 103.1, 106.5, 103.6, 107.2, 103.2, 106.7, 103.4, 107.4, 104.1, 109.7, 104.5,
  107.6, 103.7, 107.1, 103.3, 107.5, 103.9, 107.0, 103.4, 107.3, 103.8, 106.9, 103.5, 107.6, 103.6, 107.2, 103.9, 107.4, 103.2, 107.1, 103.7,
  107.3, 103.6, 107.7, 103.9, 107.2, 103.4, 107.5, 104.0, 107.0, 103.5, 107.6, 103.8, 107.4, 103.3, 107.8, 104.1, 107.1, 103.7, 107.5, 103.9,
  107.6, 104.0, 107.9, 103.8, 107.4, 104.2, 108.1, 103.9, 107.7, 104.1, 108.3, 103.7, 107.6, 104.3, 108.0, 103.9, 107.8, 104.2, 108.2, 104.0,
  107.7, 104.1, 108.0, 103.9, 108.2, 104.3, 107.8, 104.0, 108.3, 104.4, 107.9, 103.8, 108.1, 104.2, 107.6, 104.0, 108.4, 104.3, 107.9, 104.1,
  108.2, 104.4, 107.8, 104.1, 108.5, 104.3, 107.9, 104.0, 108.1, 104.5, 107.7, 103.9, 108.3, 104.2, 107.8, 104.0, 108.0, 104.3, 107.6, 103.9,
  105.6];

// (H) 30% ACN with AuNP
const sasaH1 = [
  101.8, 99.1, 102.4, 99.7, 101.2, 99.3, 102.6, 100.0, 101.5, 99.0, 102.1, 99.6, 102.8, 99.4, 101.7, 100.2, 102.9, 100.5, 103.4, 100.9,
  103.8, 100.6, 103.2, 101.1, 104.0, 100.8, 103.5, 101.3, 103.9, 100.4, 103.1, 100.0, 102.5, 99.5, 102.3, 99.8, 101.9, 99.4, 102.6, 100.1,
  102.8, 100.4, 103.6, 101.0, 104.2, 101.4, 104.6, 101.2, 104.0, 101.5, 104.5, 101.0, 103.8, 100.7, 104.3, 101.3, 103.9, 100.8, 103.5, 100.5,
  103.3, 100.2, 103.7, 99.8, 103.0, 100.4, 103.5, 99.9, 102.9, 100.3, 103.6, 99.7, 103.1, 100.5, 103.8, 100.1, 103.2, 99.9, 103.4, 100.6,
  103.7, 100.4, 104.0, 100.9, 103.4, 100.6, 103.9, 100.7, 103.5, 100.3, 104.1, 100.8, 103.6, 100.5, 104.0, 100.9, 103.3, 100.4, 103.8, 100.6,
  104.1, 100.9, 103.5, 100.3, 103.9, 100.6, 104.2, 100.1, 103.6, 99.8, 103.8, 100.4, 104.0, 100.7, 103.4, 100.2, 104.3, 100.9, 103.7, 100.5,
  104.2, 101.0, 104.5, 101.3, 104.0, 100.8, 104.6, 101.2, 104.3, 101.0, 104.7, 101.4, 104.1, 100.9, 104.4, 101.1, 104.8, 101.5, 104.2, 101.2,
  104.6, 101.5, 105.0, 101.8, 104.5, 101.3, 104.9, 101.7, 105.2, 101.6, 104.7, 101.9, 105.1, 101.4, 104.8, 101.8, 105.3, 101.6, 104.9, 101.3,
  105.0, 101.9, 105.4, 102.5, 106.0, 103.1, 106.4, 103.5, 105.8, 103.3, 106.3, 103.0, 106.1, 103.4, 106.5, 103.2, 105.9, 102.9, 106.2, 103.1,
  105.7, 102.8, 106.0, 103.3, 106.4, 103.6, 105.8, 103.0, 106.3, 103.4, 106.6, 102.9, 105.9, 103.2, 106.2, 103.5, 105.6, 102.7, 106.5, 103.3,
  104.8];
const sasaH2 = [
  101.4, 103.8, 102.5, 105.6, 103.3, 106.9, 104.0, 107.8, 104.2, 106.4, 103.1, 105.9, 103.6, 106.7, 102.9, 105.2, 103.5, 106.3, 102.8, 105.4,
  103.0, 105.8, 102.6, 105.1, 103.2, 106.0, 102.7, 105.5, 103.4, 106.2, 103.8, 106.8, 104.1, 107.3, 104.4, 107.0, 104.0, 107.6, 104.6, 107.9,
  104.3, 107.5, 104.8, 108.2, 104.5, 107.7, 105.0, 108.5, 104.7, 107.9, 104.4, 108.3, 104.9, 107.6, 104.6, 108.1, 104.2, 107.4, 104.5, 107.2,
  104.0, 107.0, 104.4, 107.5, 103.9, 106.9, 104.3, 107.3, 104.1, 107.1, 104.5, 107.6, 103.8, 107.0, 104.2, 107.4, 104.0, 106.8, 104.6, 107.5,
  104.3, 107.1, 104.7, 107.7, 104.2, 107.3, 104.8, 107.9, 104.4, 107.5, 104.9, 108.1, 104.5, 107.6, 104.3, 107.2, 104.7, 107.8, 104.4, 107.4,
  104.9, 108.0, 104.6, 107.5, 105.0, 107.9, 104.7, 107.3, 103.4, 106.2, 102.8, 105.9, 103.2, 106.5, 102.7, 105.8, 103.0, 106.3, 102.6, 106.0,
  102.9, 106.4, 103.3, 106.7, 102.8, 106.1, 103.1, 106.5, 102.7, 106.2, 103.4, 106.8, 102.9, 106.0, 103.2, 106.6, 103.0, 106.3, 103.5, 106.9,
  103.1, 106.4, 103.6, 106.7, 103.2, 106.2, 103.7, 106.9, 103.3, 106.5, 103.8, 106.8, 103.0, 106.3, 103.5, 106.6, 103.4, 106.4, 103.9, 106.7,
  103.2, 106.0, 103.6, 105.4, 104.8, 107.9, 105.5, 108.6, 106.1, 110.1, 105.8, 108.9, 105.4, 108.5, 105.9, 109.0, 105.6, 108.7, 106.0, 109.2,
  105.7, 108.9, 106.2, 109.4, 105.9, 109.1, 106.4, 109.6, 106.0, 109.3, 106.5, 109.8, 106.1, 109.2, 106.3, 109.5, 105.8, 109.0, 106.2, 109.7,
  108.0];
const sasaH3 = [
  101.9, 98.7, 101.2, 99.3, 102.5, 99.9, 103.3, 100.6, 104.0, 101.4, 104.6, 101.0, 105.2, 101.7, 104.4, 101.3, 105.0, 101.9, 105.5, 102.2,
  104.8, 101.6, 105.3, 101.9, 104.6, 101.5, 105.6, 102.3, 105.0, 101.8, 105.9, 102.6, 105.4, 102.1, 106.2, 102.9, 105.7, 102.5, 106.5, 103.1,
  106.9, 103.4, 107.3, 103.8, 106.8, 103.3, 107.6, 104.0, 107.1, 103.6, 107.5, 103.9, 106.9, 103.5, 107.4, 104.1, 107.0, 103.7, 107.6, 103.9,
  107.2, 103.8, 107.7, 104.1, 107.3, 103.7, 107.8, 104.2, 107.4, 103.9, 107.6, 104.0, 107.1, 103.8, 107.9, 104.3, 107.5, 103.9, 107.7, 104.2,
  107.4, 104.0, 107.9, 104.3, 107.5, 104.1, 108.0, 104.4, 107.6, 104.0, 107.8, 104.3, 107.3, 104.2, 108.1, 104.5, 107.7, 104.1, 107.9, 104.4,
  108.0, 104.5, 107.7, 104.2, 108.2, 104.6, 107.9, 105.8, 109.6, 106.4, 110.1, 106.8, 109.7, 106.3, 110.3, 106.9, 109.9, 106.5, 110.0, 106.6,
  110.4, 106.8, 110.9, 107.1, 111.2, 107.5, 111.7, 107.3, 111.0, 107.0, 111.4, 107.6, 111.8, 107.2, 110.8, 106.7, 110.2, 106.4, 109.0, 105.5,
  108.3, 105.0, 108.6, 104.8, 108.2, 105.1, 108.7, 104.9, 108.4, 105.2, 108.8, 105.0, 108.3, 104.8, 108.6, 105.1, 108.5, 105.3, 108.9, 105.2,
  108.7, 105.4, 109.2, 105.8, 109.5, 106.1, 109.3, 105.9, 109.6, 106.2, 109.4, 106.0, 109.8, 106.3, 109.5, 106.1, 109.7, 106.4, 109.3, 106.0,
  109.6, 106.2, 109.9, 106.5, 109.5, 106.1, 109.8, 106.4, 110.0, 106.3, 109.7, 106.2, 109.9, 106.6, 109.4, 106.0, 109.8, 106.5, 109.6, 106.3,
  108.1];

const panelSeries = [
  [sasaA1, sasaA2, sasaA3], [sasaB1, sasaB2, sasaB3],
  [sasaC1, sasaC2, sasaC3], [sasaD1, sasaD2, sasaD3],
  [sasaE1, sasaE2, sasaE3], [sasaF1, sasaF2, sasaF3],
  [sasaG1, sasaG2, sasaG3], [sasaH1, sasaH2, sasaH3]
];

// ---- layout / style ----
const width = 728;
const height = 1024;
const lineColors = ['#870000', '#ff8a0d', '#bcc300'];
const legendDash = [null, '12,7', '9,4'];
const inkColor = '#333';

const colX = [[86, 372], [432, 721]];
const rowY = [[8, 217], [261, 470], [520, 730], [774, 984]];
const yLabelShift = [7, 7, 14, 14];

// letter: [dx from plot left (text end), baseline dy]; title: [dx, dy]; legend box relative to plot corner
const stdLegend = { w: 138, h: 67, fs: 14, rows: [17, 34, 51], line: [7, 50], textX: 60 };
const layout = [
  { letter: [-33, 8], title: [11, 20], legend: { x: 142, y: 5, w: 134, h: 68, fs: 14, rows: [16, 33, 50], line: [7, 49], textX: 59 } },
  { letter: [-25, 5], title: [10, 19], legend: Object.assign({ x: 12, y: 128 }, stdLegend) },
  { letter: [-32, 5], title: [7, 17], legend: Object.assign({ x: 8, y: 128 }, stdLegend) },
  { letter: [-28, 3], title: [11, 17], legend: Object.assign({ x: 10, y: 128 }, stdLegend) },
  { letter: [-27, 9], title: [13, 17], legend: { x: 166, y: 3, w: 118, h: 59, fs: 12.7, rows: [15, 30, 45], line: [7, 43], textX: 52 } },
  { letter: [-22, 7], title: [20, 17], legend: Object.assign({ x: 13, y: 129 }, stdLegend) },
  { letter: [-28, 14], title: [12, 19], legend: Object.assign({ x: 14, y: 133 }, stdLegend) },
  { letter: [-25, 10], title: [13, 16], legend: Object.assign({ x: 15, y: 128 }, stdLegend) }
];

const svg = d3.select('body')
  .append('svg')
  .attr('width', width)
  .attr('height', height)
  .style('background-color', 'white');

const defs = svg.append('defs');

panelSeries.forEach((series, p) => {
  const [x0, x1] = colX[p % 2];
  const row = Math.floor(p / 2);
  const [y0, y1] = rowY[row];
  const lay = layout[p];

  const xScale = d3.scaleLinear().domain([0, 50]).range([x0, x1]);
  const yScale = d3.scaleLinear().domain([85, 115]).range([y1, y0]);

  const g = svg.append('g');

  defs.append('clipPath').attr('id', 'clip' + p)
    .append('rect').attr('x', x0).attr('y', y0).attr('width', x1 - x0).attr('height', y1 - y0);

  const line = d3.line()
    .x((d, i) => xScale(i * timeStep))
    .y(d => yScale(d));

  g.append('g').attr('clip-path', `url(#clip${p})`)
    .selectAll('path')
    .data(series)
    .enter()
    .append('path')
    .attr('d', d => line(d))
    .attr('fill', 'none')
    .attr('stroke', (d, i) => lineColors[i])
    .attr('stroke-width', 1)
    .attr('stroke-linejoin', 'round');

  // ticks on all four sides, pointing inward
  const xMinor = d3.range(0, 51, 2);
  const yMinor = d3.range(85, 116, 1);

  const axes = [
    [d3.axisBottom(xScale).tickValues(xMinor).tickSize(-2.5).tickFormat(''), `translate(0,${y1})`],
    [d3.axisTop(xScale).tickValues(xMinor).tickSize(-2.5).tickFormat(''), `translate(0,${y0})`],
    [d3.axisLeft(yScale).tickValues(yMinor).tickSize(-2.5).tickFormat(''), `translate(${x0},0)`],
    [d3.axisRight(yScale).tickValues(yMinor).tickSize(-2.5).tickFormat(''), `translate(${x1},0)`],
    [d3.axisTop(xScale).tickValues(xTicks).tickSize(-5).tickFormat(''), `translate(0,${y0})`],
    [d3.axisRight(yScale).tickValues(yTicks).tickSize(-5).tickFormat(''), `translate(${x1},0)`],
    [d3.axisBottom(xScale).tickValues(xTicks).tickSize(-5).tickPadding(6).tickFormat(d3.format('d')), `translate(0,${y1})`],
    [d3.axisLeft(yScale).tickValues(yTicks).tickSize(-5).tickPadding(6).tickFormat(d3.format('d')), `translate(${x0},0)`]
  ];
  axes.forEach(([ax, tr]) => {
    const a = g.append('g').attr('transform', tr).call(ax);
    a.select('.domain').remove();
    a.selectAll('line').attr('stroke', inkColor);
    a.selectAll('text')
      .attr('fill', '#222')
      .style('font-size', '9px')
      .style('font-family', '"Liberation Sans", Arial, sans-serif')
      .style('font-weight', 'bold');
  });

  g.append('rect')
    .attr('x', x0).attr('y', y0)
    .attr('width', x1 - x0).attr('height', y1 - y0)
    .attr('fill', 'none')
    .attr('stroke', inkColor)
    .attr('stroke-width', 1);

  // axis titles
  g.append('text')
    .text('Time (ns)')
    .attr('x', (x0 + x1) / 2)
    .attr('y', y1 + 35)
    .attr('text-anchor', 'middle')
    .style('font-size', '12.5px')
    .attr('fill', '#222');

  g.append('text')
    .text('Relative SASA (%) of BSA')
    .attr('transform', `translate(${x0 - 29},${(y0 + y1) / 2 + yLabelShift[row]})rotate(-90)`)
    .attr('text-anchor', 'middle')
    .style('font-size', '15.5px')
    .attr('fill', '#222');

  g.append('text')
    .text(panelLetters[p])
    .attr('x', x0 + lay.letter[0])
    .attr('y', y0 + lay.letter[1])
    .attr('text-anchor', 'end')
    .style('font-size', '13px')
    .attr('fill', '#222');

  g.append('text')
    .text(panelTitles[p])
    .attr('x', x0 + lay.title[0])
    .attr('y', y0 + lay.title[1])
    .style('font-size', '16px')
    .attr('fill', '#222');

  // legend
  const L = lay.legend;
  const lg = g.append('g').attr('transform', `translate(${x0 + L.x},${y0 + L.y})`);
  lg.append('rect')
    .attr('width', L.w).attr('height', L.h)
    .attr('fill', 'white')
    .attr('stroke', inkColor)
    .attr('stroke-width', 1);
  domainNames.forEach((name, i) => {
    lg.append('line')
      .attr('x1', L.line[0]).attr('x2', L.line[1])
      .attr('y1', L.rows[i]).attr('y2', L.rows[i])
      .attr('stroke', lineColors[i])
      .attr('stroke-width', 2.5)
      .attr('stroke-dasharray', legendDash[i]);
    lg.append('text')
      .text(name)
      .attr('x', L.textX)
      .attr('y', L.rows[i])
      .attr('dy', '0.36em')
      .style('font-size', L.fs + 'px')
      .attr('fill', '#222');
  });
});

// group labels on the far left
const groupPos = [{ y: 241, len: 222 }, { y: 761, len: 257 }];
groupLabels.forEach((lbl, i) => {
  svg.append('text')
    .text(lbl)
    .attr('transform', `translate(28,${groupPos[i].y})rotate(-90)`)
    .attr('text-anchor', 'middle')
    .attr('textLength', groupPos[i].len)
    .attr('lengthAdjust', 'spacingAndGlyphs')
    .style('font-size', '27px')
    .attr('fill', '#222');
});
</script>
</body>
</html>
